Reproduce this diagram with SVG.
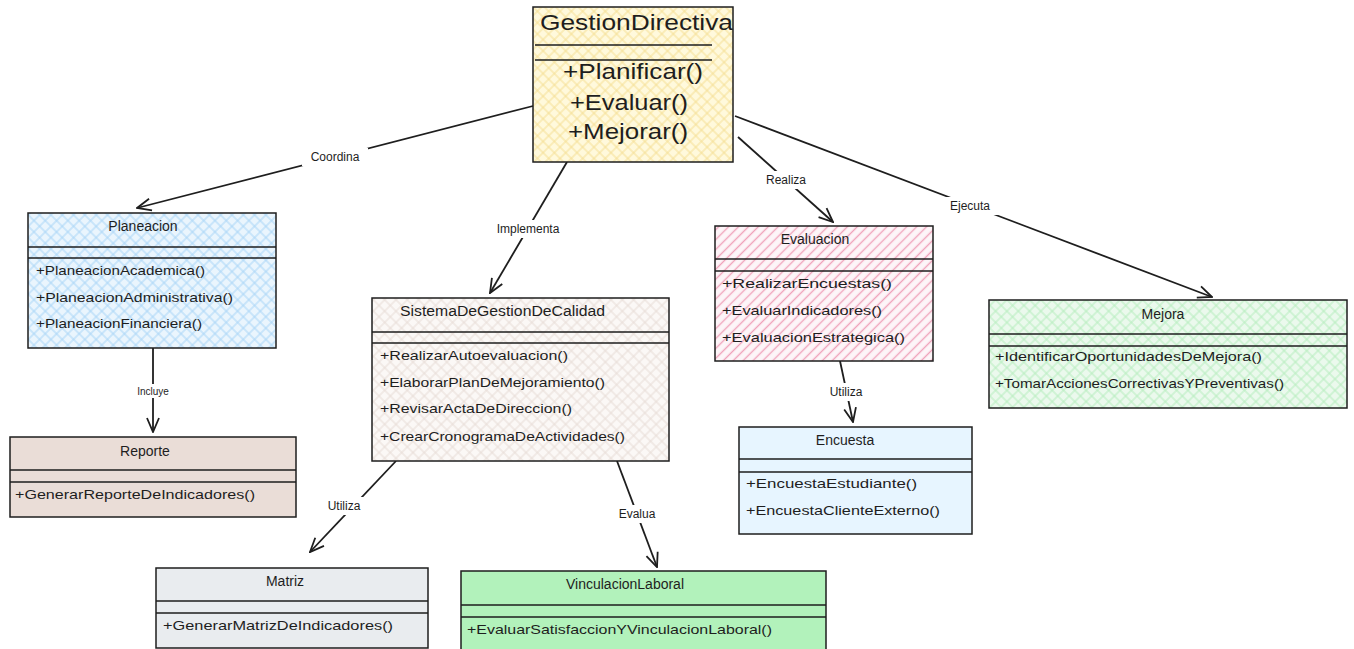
<svg xmlns="http://www.w3.org/2000/svg" width="1354" height="649" viewBox="0 0 1354 649">
<defs>
<style>
.box{stroke:#1e1e1e;stroke-width:1.5}
.sep{stroke:#1e1e1e;stroke-width:1.3;fill:none}
.t{font-family:"Liberation Sans","Open Sans",sans-serif;font-size:13px;fill:#1e1e1e}
.h{text-anchor:middle;font-size:14px}
.big{font-size:22px}
.lbl{font-family:"Liberation Sans","Open Sans",sans-serif;font-size:12px;fill:#1e1e1e;text-anchor:middle}
.con{stroke:#1e1e1e;stroke-width:1.8;fill:none}
</style>
<marker id="arr" viewBox="0 0 16 16" refX="15" refY="8" markerWidth="16" markerHeight="16" orient="auto" markerUnits="userSpaceOnUse">
<path d="M1,2 L15,8 L1,14" fill="none" stroke="#1e1e1e" stroke-width="1.8"/>
</marker>
<pattern id="pY" patternUnits="userSpaceOnUse" width="8" height="8" patternTransform="rotate(45)">
<rect width="8" height="8" fill="#fff9dc"/>
<path d="M0,4 H8 M4,0 V8" stroke="#f5df94" stroke-width="1"/>
</pattern>
<pattern id="pB" patternUnits="userSpaceOnUse" width="8" height="8" patternTransform="rotate(45)">
<rect width="8" height="8" fill="#eaf5fd"/>
<path d="M0,4 H8 M4,0 V8" stroke="#a9d6f7" stroke-width="1"/>
</pattern>
<pattern id="pS" patternUnits="userSpaceOnUse" width="8" height="8" patternTransform="rotate(45)">
<rect width="8" height="8" fill="#fbf8f6"/>
<path d="M0,4 H8 M4,0 V8" stroke="#e8dcd6" stroke-width="1"/>
</pattern>
<pattern id="pG" patternUnits="userSpaceOnUse" width="8" height="8" patternTransform="rotate(45)">
<rect width="8" height="8" fill="#ebf9ed"/>
<path d="M0,4 H8 M4,0 V8" stroke="#b6edbe" stroke-width="1"/>
</pattern>
<pattern id="pP" patternUnits="userSpaceOnUse" width="7" height="7" patternTransform="rotate(45)">
<rect width="7" height="7" fill="#fdf5f8"/>
<path d="M3.5,0 V7" stroke="#f0a3bb" stroke-width="1.4"/>
</pattern>
</defs>
<rect width="1354" height="649" fill="#ffffff"/>

<g id="connectors">
<path class="con" d="M533,106 L137,208" marker-end="url(#arr)"/>
<path class="con" d="M567,162 L490,293" marker-end="url(#arr)"/>
<path class="con" d="M738,137 L833,222" marker-end="url(#arr)"/>
<path class="con" d="M735,116 L1212,297" marker-end="url(#arr)" stroke-width="2.2"/>
<path class="con" d="M153,348 L153,432" marker-end="url(#arr)"/>
<path class="con" d="M396,461 L310,552" marker-end="url(#arr)" stroke-width="2.2"/>
<path class="con" d="M617,461 L657,567" marker-end="url(#arr)" stroke-width="2.2"/>
<path class="con" d="M840,361 L853,422" marker-end="url(#arr)"/>
<rect x="302" y="148" width="66" height="18" fill="#ffffff"/>
<text class="lbl" x="335" y="161">Coordina</text>
<rect x="487" y="220" width="82" height="18" fill="#ffffff"/>
<text class="lbl" x="528" y="233">Implementa</text>
<rect x="758" y="171" width="56" height="18" fill="#ffffff"/>
<text class="lbl" x="786" y="184">Realiza</text>
<rect x="940" y="197" width="60" height="18" fill="#ffffff"/>
<text class="lbl" x="970" y="210">Ejecuta</text>
<rect x="130" y="384" width="46" height="14" fill="#ffffff"/>
<text class="lbl" x="153" y="395" style="font-size:10px">Incluye</text>
<rect x="318" y="497" width="52" height="18" fill="#ffffff"/>
<text class="lbl" x="344" y="510">Utiliza</text>
<rect x="610" y="505" width="54" height="18" fill="#ffffff"/>
<text class="lbl" x="637" y="518">Evalua</text>
<rect x="820" y="383" width="52" height="18" fill="#ffffff"/>
<text class="lbl" x="846" y="396">Utiliza</text>
</g>

<g id="GestionDirectiva">
<rect class="box" x="533" y="7" width="200" height="155" fill="url(#pY)"/>
<path class="sep" d="M535,45 H712 M535,60 H712"/>
<text class="t big" x="540" y="30" textLength="193" lengthAdjust="spacingAndGlyphs">GestionDirectiva</text>
<text class="t big" x="563" y="79" textLength="140" lengthAdjust="spacingAndGlyphs">+Planificar()</text>
<text class="t big" x="570" y="110" textLength="118" lengthAdjust="spacingAndGlyphs">+Evaluar()</text>
<text class="t big" x="568" y="139" textLength="120" lengthAdjust="spacingAndGlyphs">+Mejorar()</text>
</g>

<g id="Planeacion">
<rect class="box" x="28" y="213" width="248" height="135" fill="url(#pB)"/>
<path class="sep" d="M28,247 H276 M28,258 H276"/>
<text class="t h" x="143" y="231">Planeacion</text>
<text class="t" x="36" y="275" textLength="169" lengthAdjust="spacingAndGlyphs">+PlaneacionAcademica()</text>
<text class="t" x="36" y="302" textLength="197" lengthAdjust="spacingAndGlyphs">+PlaneacionAdministrativa()</text>
<text class="t" x="36" y="328" textLength="166" lengthAdjust="spacingAndGlyphs">+PlaneacionFinanciera()</text>
</g>

<g id="Reporte">
<rect class="box" x="10" y="437" width="286" height="80" fill="#eaddd7"/>
<path class="sep" d="M10,470 H296 M10,482 H296"/>
<text class="t h" x="145" y="456">Reporte</text>
<text class="t" x="15" y="499" textLength="240" lengthAdjust="spacingAndGlyphs">+GenerarReporteDeIndicadores()</text>
</g>

<g id="SistemaDeGestionDeCalidad">
<rect class="box" x="372" y="298" width="297" height="163" fill="url(#pS)"/>
<path class="sep" d="M372,332 H669 M372,343 H669"/>
<text class="t" x="400" y="316" textLength="205" lengthAdjust="spacingAndGlyphs" style="font-size:14px">SistemaDeGestionDeCalidad</text>
<text class="t" x="380" y="360" textLength="188" lengthAdjust="spacingAndGlyphs">+RealizarAutoevaluacion()</text>
<text class="t" x="380" y="387" textLength="225" lengthAdjust="spacingAndGlyphs">+ElaborarPlanDeMejoramiento()</text>
<text class="t" x="380" y="413" textLength="192" lengthAdjust="spacingAndGlyphs">+RevisarActaDeDireccion()</text>
<text class="t" x="380" y="441" textLength="245" lengthAdjust="spacingAndGlyphs">+CrearCronogramaDeActividades()</text>
</g>

<g id="Evaluacion">
<rect class="box" x="715" y="226" width="218" height="135" fill="url(#pP)"/>
<path class="sep" d="M715,259 H933 M715,271 H933"/>
<text class="t h" x="815" y="244">Evaluacion</text>
<text class="t" x="722" y="288" textLength="170" lengthAdjust="spacingAndGlyphs">+RealizarEncuestas()</text>
<text class="t" x="722" y="315" textLength="160" lengthAdjust="spacingAndGlyphs">+EvaluarIndicadores()</text>
<text class="t" x="722" y="342" textLength="183" lengthAdjust="spacingAndGlyphs">+EvaluacionEstrategica()</text>
</g>

<g id="Mejora">
<rect class="box" x="989" y="300" width="358" height="108" fill="url(#pG)"/>
<path class="sep" d="M989,334 H1347 M989,346 H1347"/>
<text class="t h" x="1163" y="319">Mejora</text>
<text class="t" x="995" y="361" textLength="267" lengthAdjust="spacingAndGlyphs">+IdentificarOportunidadesDeMejora()</text>
<text class="t" x="995" y="388" textLength="289" lengthAdjust="spacingAndGlyphs">+TomarAccionesCorrectivasYPreventivas()</text>
</g>

<g id="Encuesta">
<rect class="box" x="739" y="427" width="233" height="107" fill="#e7f5ff"/>
<path class="sep" d="M739,459 H972 M739,472 H972"/>
<text class="t h" x="845" y="445">Encuesta</text>
<text class="t" x="746" y="488" textLength="171" lengthAdjust="spacingAndGlyphs">+EncuestaEstudiante()</text>
<text class="t" x="746" y="515" textLength="194" lengthAdjust="spacingAndGlyphs">+EncuestaClienteExterno()</text>
</g>

<g id="Matriz">
<rect class="box" x="156" y="568" width="272" height="80" fill="#e9ecef"/>
<path class="sep" d="M156,601 H428 M156,613 H428"/>
<text class="t h" x="285" y="586">Matriz</text>
<text class="t" x="163" y="630" textLength="230" lengthAdjust="spacingAndGlyphs">+GenerarMatrizDeIndicadores()</text>
</g>

<g id="VinculacionLaboral">
<rect class="box" x="461" y="571" width="365" height="82" fill="#b2f2bb"/>
<path class="sep" d="M461,605 H826 M461,617 H826"/>
<text class="t h" x="625" y="589">VinculacionLaboral</text>
<text class="t" x="467" y="634" textLength="305" lengthAdjust="spacingAndGlyphs">+EvaluarSatisfaccionYVinculacionLaboral()</text>
</g>
</svg>
